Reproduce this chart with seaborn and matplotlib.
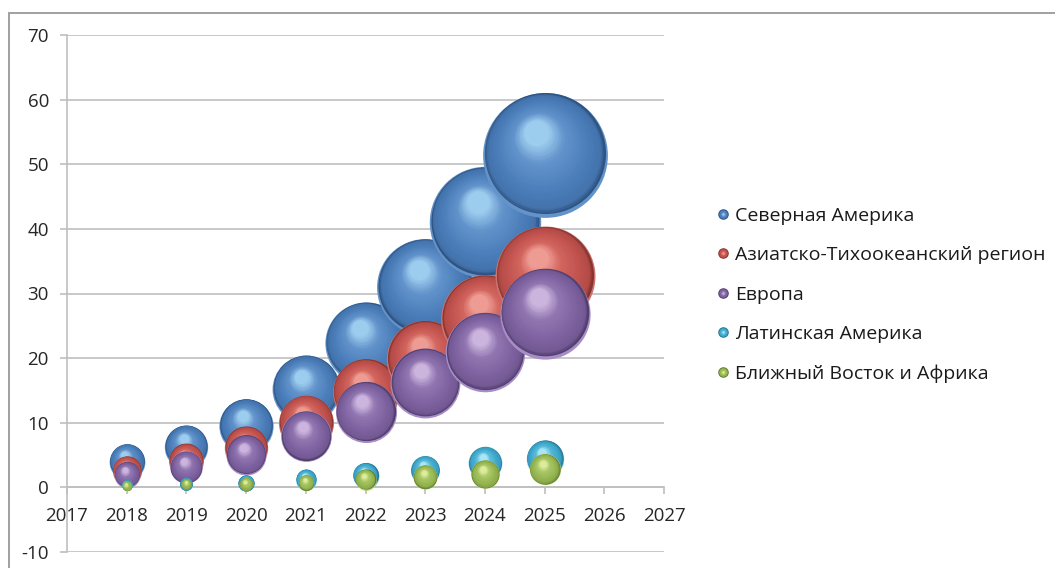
import numpy as np
import pandas as pd
import matplotlib
matplotlib.use("Agg")
import matplotlib.pyplot as plt
import matplotlib.transforms as mtransforms
from matplotlib.colors import to_rgb
from matplotlib.lines import Line2D
from matplotlib.legend_handler import HandlerTuple
from matplotlib.patches import Rectangle
import seaborn as sns

# ---- data -------------------------------------------------------------
years = [2018, 2019, 2020, 2021, 2022, 2023, 2024, 2025]
regions = [
    "Северная Америка",
    "Азиатско-Тихоокеанский регион",
    "Европа",
    "Латинская Америка",
    "Ближный Восток и Африка",
]

north_america = [4.0, 6.3, 9.5, 15.2, 22.3, 31.0, 41.0, 51.4]
north_america_size = [4.2, 6.2, 9.7, 15.2, 22.3, 31.0, 41.0, 51.4]

asia_pacific = [2.6, 4.1, 6.1, 10.0, 14.7, 19.8, 26.0, 32.7]
asia_pacific_size = [2.8, 4.0, 6.2, 10.0, 14.7, 19.8, 26.0, 33.0]

europe = [1.95, 3.1, 5.0, 7.9, 11.6, 16.1, 20.9, 26.9]
europe_size = [2.2, 3.5, 5.3, 8.5, 12.3, 16.1, 20.9, 26.9]

latin_america = [0.3, 0.5, 0.6, 1.2, 1.8, 2.65, 3.7, 4.4]
latin_america_size = [0.4, 0.55, 0.9, 1.4, 2.2, 2.8, 3.75, 4.6]

middle_east_africa = [0.2, 0.5, 0.5, 0.7, 1.2, 1.6, 2.0, 2.8]
middle_east_africa_size = [0.3, 0.35, 0.6, 0.8, 1.4, 1.9, 2.7, 3.2]

values = [north_america, asia_pacific, europe, latin_america, middle_east_africa]
bubble_sizes = [north_america_size, asia_pacific_size, europe_size,
                latin_america_size, middle_east_africa_size]

x_ticks = list(range(2017, 2028))
y_ticks = list(range(-10, 71, 10))

# sphere shading stops per region: rim reflection, dark edge, body, light body, highlight
shades = {
    "Северная Америка": ["#6393C8", "#2F5484", "#4A7DB9", "#6393CB", "#9CCDEE"],
    "Азиатско-Тихоокеанский регион": ["#C9746F", "#873430", "#C1524E", "#D3665F", "#EE9B93"],
    "Европа": ["#A68DC5", "#523E6E", "#7E62A0", "#9176B1", "#CBB4DD"],
    "Латинская Америка": ["#76C5DE", "#257593", "#3FA8CB", "#5ABCDB", "#A9E5F5"],
    "Ближный Восток и Африка": ["#B7D07A", "#617C2E", "#96B652", "#AAC866", "#DCEC9C"],
}
palette = {r: shades[r][2] for r in regions}

# ---- long-form table --------------------------------------------------
rows = []
for region, vals, sz in zip(regions, values, bubble_sizes):
    for yr, v, s in zip(years, vals, sz):
        rows.append({"year": yr, "value": v, "size": s, "region": region})
df = pd.DataFrame(rows)

# ---- figure -----------------------------------------------------------
sns.set_theme(style="white")
plt.rcParams["font.family"] = ["Open Sans", "DejaVu Sans"]

fig = plt.figure(figsize=(10.55, 5.68), dpi=100)
ax = fig.add_axes([67 / 1055, 1 - 552 / 568, (664 - 67) / 1055, (552 - 35) / 568])

# bubble area in pt^2 per unit of bubble size
AREA_PER_UNIT = 157.0
smin, smax = df["size"].min(), df["size"].max()
sns.scatterplot(
    data=df, x="year", y="value", hue="region", hue_order=regions,
    palette=palette, size="size", sizes=(AREA_PER_UNIT * smin, AREA_PER_UNIT * smax),
    size_norm=(smin, smax), linewidth=0, legend=False, ax=ax, zorder=2,
)
base = ax.collections[-1]
offsets = base.get_offsets()
areas = base.get_sizes()
if len(areas) == 1:
    areas = np.repeat(areas, len(offsets))

# layered shading gives each bubble a glossy sphere look
N_LAYERS = 36
stops_t = [0.0, 0.07, 0.3, 0.72, 1.0]
for i, (xy, area) in enumerate(zip(offsets, areas)):
    region = df["region"].iloc[i]
    rim, dark, body, light, hi = [np.array(to_rgb(c)) for c in shades[region]]
    stop_cols = np.array([dark, body * 0.75 + dark * 0.25, body, light, hi])
    R = np.sqrt(area) / 2.0  # radius in points
    ax.scatter([xy[0]], [xy[1]], s=area, color=rim, linewidths=0, zorder=3)
    for k in range(N_LAYERS):
        t = k / (N_LAYERS - 1)
        r = R * (0.97 * (1 - t) + 0.2 * t)
        dx = R * (-0.13 * t)
        dy = R * (0.03 * (1 - t) + 0.36 * t)
        col = [np.interp(t, stops_t, stop_cols[:, c]) for c in range(3)]
        tr = ax.transData + mtransforms.ScaledTranslation(dx / 72, dy / 72, fig.dpi_scale_trans)
        ax.scatter([xy[0]], [xy[1]], s=(2 * r) ** 2, color=col, linewidths=0,
                   transform=tr, zorder=3)
base.set_visible(False)

# ---- axes styling -----------------------------------------------------
grid_col = "#BFBFBF"
ax.set_xlim(2017, 2027)
ax.set_ylim(-10, 70)
ax.set_xticks(x_ticks)
ax.set_yticks(y_ticks)
ax.set_xticklabels([str(t) for t in x_ticks])
ax.set_yticklabels([str(t) for t in y_ticks])
ax.set_xlabel("")
ax.set_ylabel("")
ax.yaxis.grid(True, color=grid_col, linewidth=1.2)
ax.xaxis.grid(False)
ax.set_axisbelow(True)
for side in ["top", "right"]:
    ax.spines[side].set_visible(False)
ax.spines["bottom"].set_position(("data", 0))
ax.spines["bottom"].set_color(grid_col)
ax.spines["bottom"].set_linewidth(1.2)
ax.spines["left"].set_color(grid_col)
ax.spines["left"].set_linewidth(1.2)
ax.tick_params(axis="x", direction="out", length=5, width=1.2, color=grid_col,
               pad=9, labelsize=13.5, labelcolor="#262626", bottom=True)
ax.tick_params(axis="y", direction="out", length=5, width=1.2, color=grid_col,
               pad=8, labelsize=13.5, labelcolor="#262626", left=True)

# ---- legend with small sphere markers ---------------------------------
handles = []
for region in regions:
    rim, dark, body, light, hi = shades[region]
    handles.append((
        Line2D([], [], ls="none", marker="o", markersize=7.6, markerfacecolor=dark, markeredgewidth=0),
        Line2D([], [], ls="none", marker="o", markersize=6.2, markerfacecolor=body, markeredgewidth=0),
        Line2D([], [], ls="none", marker="o", markersize=3.6, markerfacecolor=light, markeredgewidth=0),
        Line2D([], [], ls="none", marker="o", markersize=1.8, markerfacecolor=hi, markeredgewidth=0),
    ))
fig.legend(
    handles, regions, handler_map={tuple: HandlerTuple(ndivide=1, pad=0)},
    loc="upper left", bbox_to_anchor=(708 / 1055, 1 - 199 / 568),
    frameon=False, fontsize=14, labelspacing=1.1, handlelength=0.7,
    handletextpad=0.3, borderaxespad=0, labelcolor="#1a1a1a",
)

# chart frame
fig.patches.append(Rectangle((9 / 1055, -0.2), 1.5, 1 - 13 / 568 + 0.2, transform=fig.transFigure,
                             fill=False, edgecolor="#A0A0A0", linewidth=1.4, zorder=0))

fig.savefig("out.png", dpi=100)
